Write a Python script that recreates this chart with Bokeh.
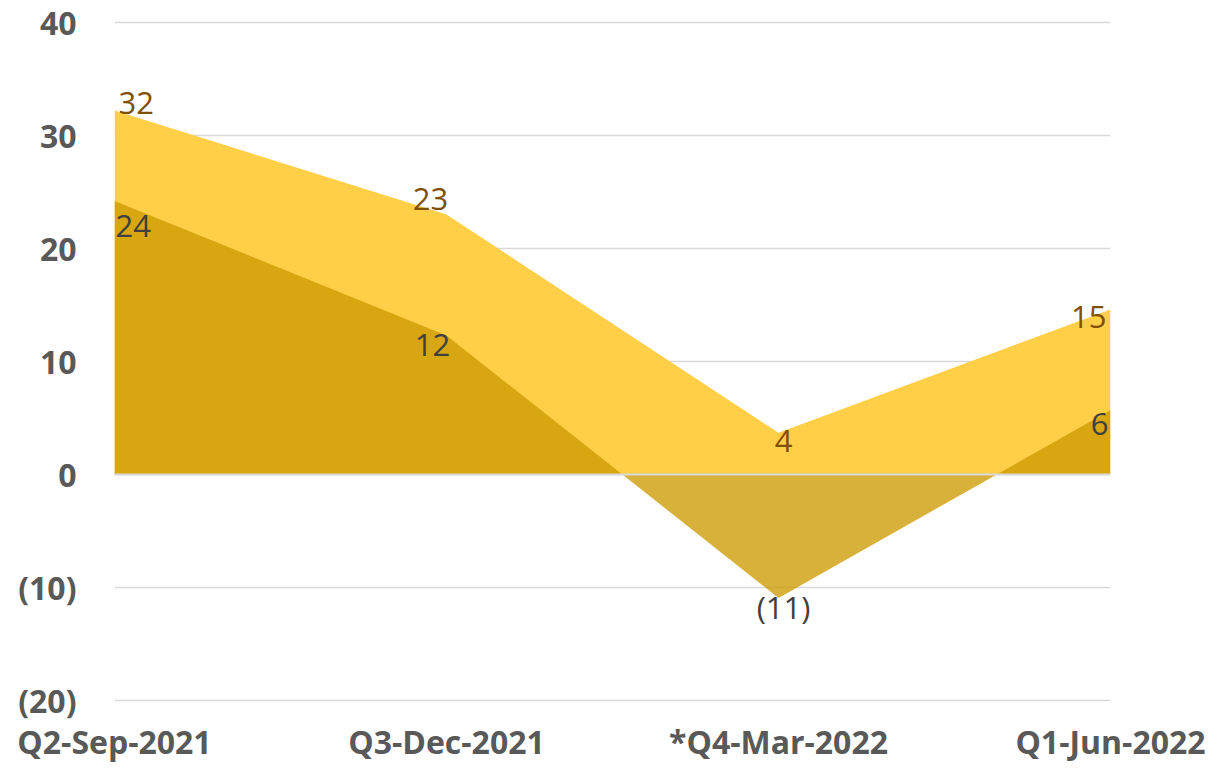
from bokeh.plotting import figure
from bokeh.models import ColumnDataSource, FixedTicker, Range1d, Span
from bokeh.core.properties import value
from bokeh.embed import file_html
from bokeh.resources import INLINE

# ---- data ----
quarters = ["Q2-Sep-2021", "Q3-Dec-2021", "*Q4-Mar-2022", "Q1-Jun-2022"]
series_light = [32.2, 23.0, 3.7, 14.6]
series_dark = [24.2, 12.3, -10.9, 5.7]
y_ticks = [-20, -10, 0, 10, 20, 30, 40]

def fmt(v):
    r = int(round(v))
    return f"({abs(r)})" if r < 0 else f"{r}"

x = list(range(len(quarters)))

FONT = "Open Sans"
LIGHT = "#FFCF48"
DARK = "#CC9900"

p = figure(width=1230, height=768, output_backend="svg", toolbar_location=None,
           x_range=Range1d(0, len(quarters) - 1), y_range=Range1d(-20.15, 40.15),
           min_border_left=114, min_border_right=120, min_border_top=20, min_border_bottom=66)
p.outline_line_color = None
p.background_fill_color = "white"
p.border_fill_color = "white"

p.varea(x=x, y1=[0] * len(x), y2=series_light, fill_color=LIGHT)
p.varea(x=x, y1=[0] * len(x), y2=series_dark, fill_color=DARK, fill_alpha=0.77)

p.add_layout(Span(location=0, dimension="width", line_color="#D9D9D9", line_width=2))

# data label placement (screen px offsets from each point)
lx_off = [4, -16, 5, -4]
ly_off = [-7, -15, 8, 8]
dx_off = [1, -14, 5, -2]
dy_off = [25, 10, 9, 14]
aligns = ["left", "center", "center", "right"]

src_l = ColumnDataSource(dict(x=x, y=series_light, t=[fmt(v) for v in series_light],
                              xo=lx_off, yo=ly_off, a=aligns))
src_d = ColumnDataSource(dict(x=x, y=series_dark, t=[fmt(v) for v in series_dark],
                              xo=dx_off, yo=dy_off, a=aligns))
p.text(x="x", y="y", text="t", x_offset="xo", y_offset="yo", text_align="a",
       text_baseline="middle", text_font=value(FONT), text_font_size="31px",
       text_color="#7F5000", source=src_l)
p.text(x="x", y="y", text="t", x_offset="xo", y_offset="yo", text_align="a",
       text_baseline="middle", text_font=value(FONT), text_font_size="31px",
       text_color="#404040", source=src_d)

# axes
p.xaxis.ticker = FixedTicker(ticks=x)
p.xaxis.major_label_overrides = {i: q for i, q in zip(x, quarters)}
p.yaxis.ticker = FixedTicker(ticks=y_ticks)
p.yaxis.major_label_overrides = {t: fmt(t) for t in y_ticks}
for ax in (p.xaxis[0], p.yaxis[0]):
    ax.axis_line_color = None
    ax.major_tick_line_color = None
    ax.minor_tick_line_color = None
    ax.major_tick_out = 0
    ax.major_tick_in = 0
    ax.major_label_text_font = FONT
    ax.major_label_text_font_size = "32px"
    ax.major_label_text_font_style = "bold"
    ax.major_label_text_color = "#595959"
p.xaxis.major_label_standoff = 17
p.yaxis.major_label_standoff = 38

p.xgrid.grid_line_color = None
p.ygrid.ticker = FixedTicker(ticks=y_ticks)
p.ygrid.grid_line_color = "#D9D9D9"
p.ygrid.grid_line_width = 1.5

open("out.html", "w").write(file_html(p, INLINE))
